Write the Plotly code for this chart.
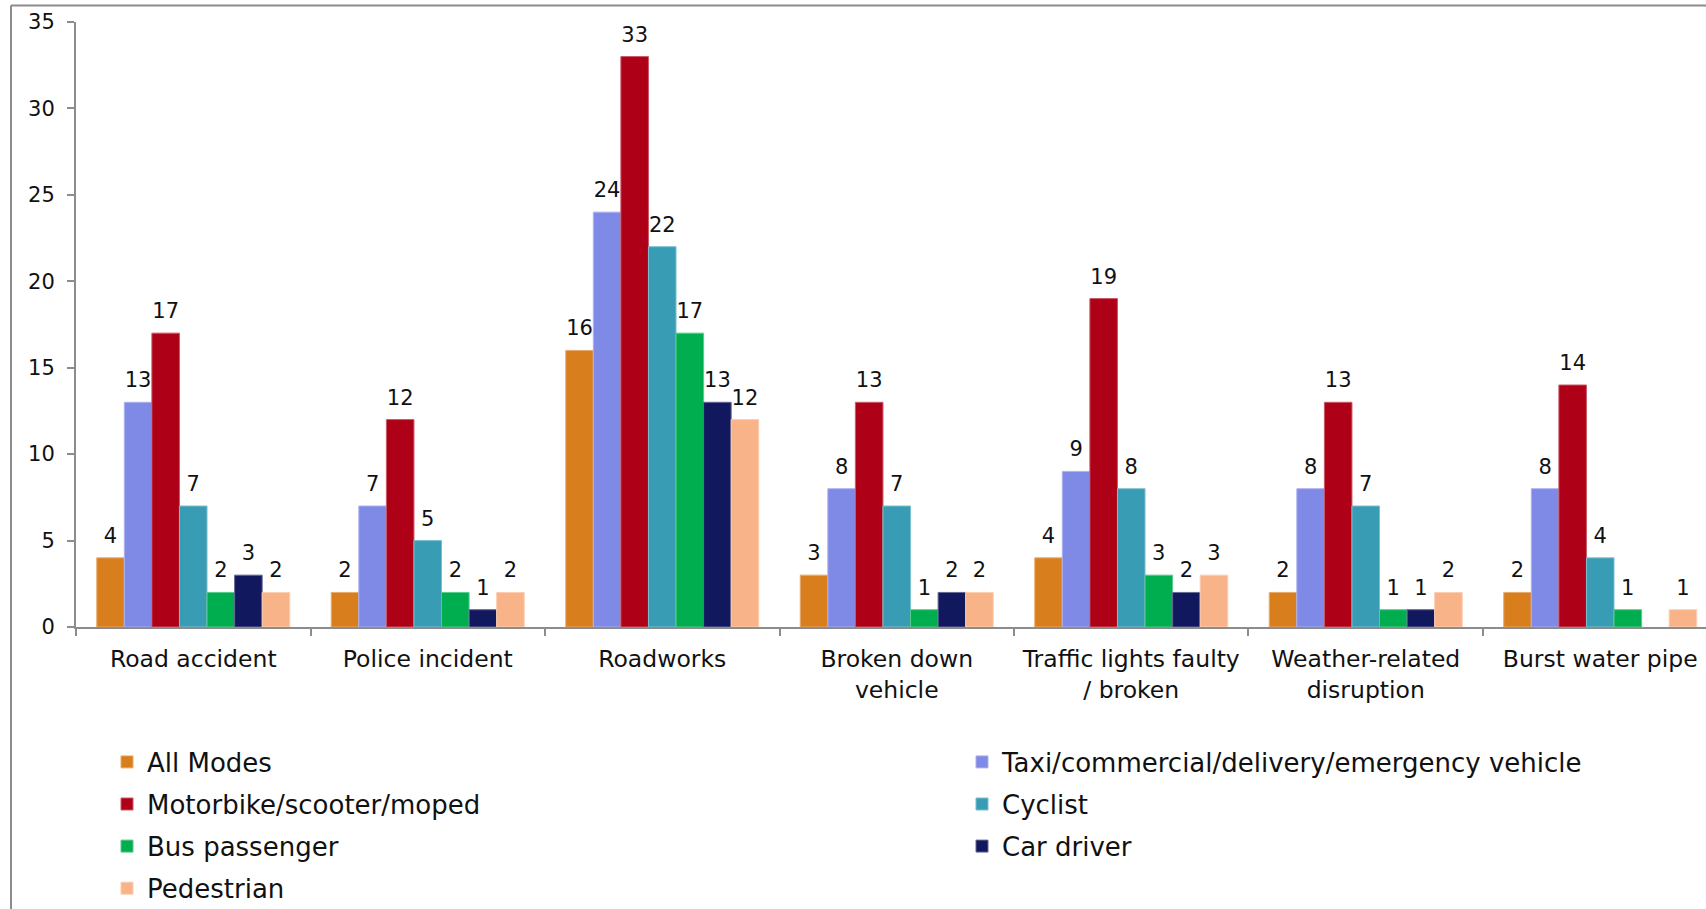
import plotly.graph_objects as go

# Incident categories (x axis) and travel modes (series)
categories = [
    "Road accident",
    "Police incident",
    "Roadworks",
    "Broken down<br>vehicle",
    "Traffic lights faulty<br>/ broken",
    "Weather-related<br>disruption",
    "Burst water pipe",
]

all_modes = [4, 2, 16, 3, 4, 2, 2]
taxi_commercial = [13, 7, 24, 8, 9, 8, 8]
motorbike = [17, 12, 33, 13, 19, 13, 14]
cyclist = [7, 5, 22, 7, 8, 7, 4]
bus_passenger = [2, 2, 17, 1, 3, 1, 1]
car_driver = [3, 1, 13, 2, 2, 1, None]
pedestrian = [2, 2, 12, 2, 3, 2, 1]

y_ticks = [0, 5, 10, 15, 20, 25, 30, 35]

series = [
    ("All Modes", all_modes, "#D97E1C", "legend"),
    ("Taxi/commercial/delivery/emergency vehicle", taxi_commercial, "#7F89E6", "legend2"),
    ("Motorbike/scooter/moped", motorbike, "#AE0016", "legend"),
    ("Cyclist", cyclist, "#389DB4", "legend2"),
    ("Bus passenger", bus_passenger, "#00AE50", "legend"),
    ("Car driver", car_driver, "#12185E", "legend2"),
    ("Pedestrian", pedestrian, "#F9B388", "legend"),
]

FONT = "DejaVu Sans, Verdana, sans-serif"
AXIS_GREY = "#8c8c8c"
BAR_GAP = 0.177


def tint(hex_color, amount=0.35):
    """Lighter shade of a colour, used for the thin bar outline."""
    r, g, b = (int(hex_color[i:i + 2], 16) for i in (1, 3, 5))
    r, g, b = (round(c + (255 - c) * amount) for c in (r, g, b))
    return f"rgb({r},{g},{b})"


fig = go.Figure()
for name, values, color, legend_id in series:
    fig.add_trace(
        go.Bar(
            name=name,
            x=categories,
            y=values,
            marker=dict(color=color, line=dict(width=1, color=tint(color))),
            legend=legend_id,
            legendgroup=name,
        )
    )

# Value labels: text points grouped the same way as the bars,
# with an invisible marker to lift the text clear of each bar top
for name, values, color, legend_id in series:
    fig.add_trace(
        go.Scatter(
            x=categories,
            y=values,
            mode="markers+text",
            text=[("" if v is None else str(v)) for v in values],
            textposition="top center",
            textfont=dict(family=FONT, size=21, color="#111111"),
            marker=dict(size=14, color="rgba(0,0,0,0)"),
            showlegend=False,
            hoverinfo="skip",
            cliponaxis=False,
        )
    )

W, H = 1706, 909
ML, MR, MT, MB = 76, 0, 22, 282
plot_w = W - ML - MR
plot_h = H - MT - MB

legend_common = dict(
    orientation="v",
    font=dict(family=FONT, size=26, color="#111111"),
    bgcolor="rgba(0,0,0,0)",
    borderwidth=0,
    tracegroupgap=5.3,
    xanchor="left",
    yanchor="top",
    y=(MT + plot_h - 738.5) / plot_h,
)

fig.update_layout(
    width=W,
    height=H,
    margin=dict(l=ML, r=MR, t=MT, b=MB, pad=0, autoexpand=False),
    paper_bgcolor="white",
    plot_bgcolor="white",
    barmode="group",
    bargap=BAR_GAP,
    bargroupgap=0,
    scattermode="group",
    scattergap=BAR_GAP,
    font=dict(family=FONT, color="#111111"),
    showlegend=True,
    legend=dict(legend_common, x=(107 - ML) / plot_w),
    legend2=dict(legend_common, x=(962 - ML) / plot_w),
    xaxis=dict(
        type="category",
        range=[-0.5, 6.451],
        showline=True,
        linecolor=AXIS_GREY,
        linewidth=2,
        ticks="outside",
        tickson="boundaries",
        ticklen=7,
        tickwidth=2,
        tickcolor=AXIS_GREY,
        tickfont=dict(family=FONT, size=23.5, color="#111111"),
        ticklabelstandoff=10,
        showgrid=False,
        zeroline=False,
        fixedrange=True,
    ),
    yaxis=dict(
        range=[0, 35],
        tickvals=y_ticks,
        showline=True,
        linecolor=AXIS_GREY,
        linewidth=2,
        ticks="outside",
        ticklen=7,
        tickwidth=2,
        tickcolor=AXIS_GREY,
        tickfont=dict(family=FONT, size=21, color="#111111"),
        ticklabelstandoff=8,
        showgrid=False,
        zeroline=False,
        fixedrange=True,
    ),
)

# Outer chart frame (left and top edges are within the page)
frame_x = (11 - ML) / plot_w
frame_y = 1 + (MT - 5.5) / plot_h
fig.add_shape(type="line", xref="paper", yref="paper",
              x0=frame_x, x1=1.05, y0=frame_y, y1=frame_y,
              line=dict(color=AXIS_GREY, width=2))
fig.add_shape(type="line", xref="paper", yref="paper",
              x0=frame_x, x1=frame_x, y0=frame_y, y1=-0.6,
              line=dict(color=AXIS_GREY, width=2))

fig.write_html("out.html", config={"displayModeBar": False})
